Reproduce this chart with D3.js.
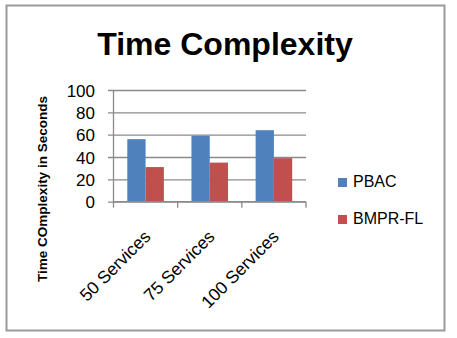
<!DOCTYPE html>
<html>
<head>
<meta charset="utf-8">
<script src="https://cdn.jsdelivr.net/npm/d3@7"></script>
<style>
  body { margin: 0; background: #fff; }
  text { font-family: "Liberation Sans", Arial, sans-serif; }
</style>
</head>
<body>
<div id="chart"></div>
<script>
// data
var categories = ['50 Services', '75 Services', '100 Services'];
var seriesNames = ['PBAC', 'BMPR-FL'];
var pbac = [56, 59, 64];
var bmprfl = [31, 35, 39];
var yTicks = [0, 20, 40, 60, 80, 100];

var colors = ['#4f81bd', '#c0504d'];
var W = 457, H = 338;

var svg = d3.select('#chart').append('svg')
	.attr('width', W)
	.attr('height', H);

// outer frame
svg.append('rect')
	.attr('x', 6.5).attr('y', 5.5)
	.attr('width', 438).attr('height', 325)
	.attr('fill', '#fff')
	.attr('stroke', '#9a9a9a')
	.attr('stroke-width', 2);

// title
svg.append('text')
	.attr('x', 225).attr('y', 55)
	.attr('text-anchor', 'middle')
	.style('font-size', '32px')
	.style('font-weight', 'bold')
	.text('Time Complexity');

var plot = { left: 113.5, right: 306, top: 90, bottom: 201.7 };

var x = d3.scaleBand()
	.domain(categories)
	.range([plot.left, plot.right])
	.paddingInner(0.43)
	.paddingOuter(0.215);

var xs = d3.scaleBand()
	.domain(seriesNames)
	.range([0, x.bandwidth()]);

var y = d3.scaleLinear()
	.domain([0, 100])
	.range([plot.bottom, plot.top]);

// gridlines + y ticks
var yAxis = d3.axisLeft(y)
	.tickValues(yTicks)
	.tickSize(-(plot.right - plot.left + 5.5))
	.tickPadding(13);

var gy = svg.append('g')
	.attr('transform', 'translate(' + (plot.left - 5.5) + ',0)')
	.call(yAxis);
gy.select('.domain').remove();
gy.selectAll('.tick line')
	.attr('stroke', '#8a8a8a')
	.attr('stroke-width', 1.3);
gy.selectAll('.tick text')
	.attr('fill', '#000')
	.attr('dy', '0.36em')
	.style('font-size', '17px')
	.style('font-family', '"Liberation Sans", Arial, sans-serif');

// bars
var rows = categories.map(function(c, i) {
	return { cat: c, vals: [pbac[i], bmprfl[i]] };
});

var grp = svg.append('g').selectAll('g')
	.data(rows)
	.enter()
	.append('g')
	.attr('transform', function(d) {
		return 'translate(' + x(d.cat) + ',0)';
	});

grp.selectAll('rect')
	.data(function(d) {
		return d.vals.map(function(v, j) { return { name: seriesNames[j], v: v, j: j }; });
	})
	.enter()
	.append('rect')
	.attr('x', function(d) { return xs(d.name); })
	.attr('y', function(d) { return y(d.v); })
	.attr('width', xs.bandwidth())
	.attr('height', function(d) { return y(0) - y(d.v); })
	.attr('fill', function(d) { return colors[d.j]; });

// y axis line
svg.append('line')
	.attr('x1', plot.left).attr('x2', plot.left)
	.attr('y1', plot.top).attr('y2', plot.bottom)
	.attr('stroke', '#8a8a8a')
	.attr('stroke-width', 1.3);

// x axis with ticks at band boundaries
var gx = svg.append('g')
	.attr('transform', 'translate(0,' + plot.bottom + ')');
gx.append('line')
	.attr('x1', plot.left).attr('x2', plot.right)
	.attr('stroke', '#8a8a8a')
	.attr('stroke-width', 1.3);
var step = x.step();
gx.selectAll('line.tk')
	.data(d3.range(categories.length + 1))
	.enter()
	.append('line')
	.attr('class', 'tk')
	.attr('x1', function(i) { return plot.left + i * step; })
	.attr('x2', function(i) { return plot.left + i * step; })
	.attr('y1', 0).attr('y2', 6)
	.attr('stroke', '#8a8a8a')
	.attr('stroke-width', 1.3);

gx.selectAll('text.lbl')
	.data(categories)
	.enter()
	.append('text')
	.attr('class', 'lbl')
	.attr('text-anchor', 'end')
	.attr('transform', function(d) {
		var cx = x(d) + x.bandwidth() / 2 + 6;
		return 'translate(' + cx + ',36) rotate(-45)';
	})
	.style('font-size', '17.5px')
	.text(function(d) { return d; });

// y axis title
svg.append('text')
	.attr('text-anchor', 'middle')
	.attr('transform', 'translate(47,189) rotate(-90)')
	.style('font-size', '13.5px')
	.style('font-weight', 'bold')
	.text('Time COmplexity in Seconds');

// legend
var leg = svg.append('g').selectAll('g')
	.data(seriesNames)
	.enter()
	.append('g')
	.attr('transform', function(d, i) {
		return 'translate(338,' + (178 + i * 37) + ')';
	});
leg.append('rect')
	.attr('width', 9).attr('height', 9)
	.attr('fill', function(d, i) { return colors[i]; });
leg.append('text')
	.attr('x', 15).attr('y', 9)
	.style('font-size', '16px')
	.text(function(d) { return d; });
</script>
</body>
</html>
